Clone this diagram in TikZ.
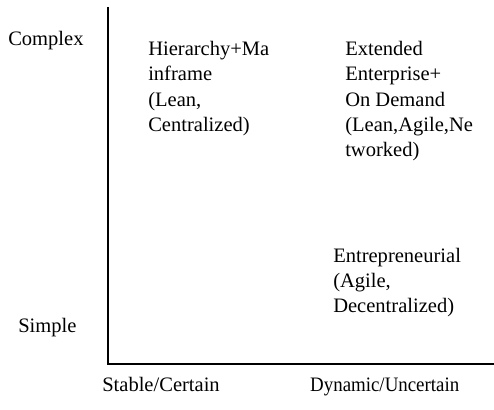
\documentclass[tikz,border=0pt]{standalone}
\usepackage{fontspec}
\setmainfont{Liberation Serif}
\begin{document}
\begin{tikzpicture}[x=0.75pt,y=-0.75pt,
  lbl/.style={anchor=base west,inner sep=0pt,align=left,
    font=\fontsize{15.4pt}{19.1pt}\selectfont},
  axis/.style={line width=0.9pt}]
\useasboundingbox (0,0) rectangle (494,410);
% axes
\coordinate (top) at (108,7);
\coordinate (origin) at (108,364);
\coordinate (right) at (494,364);
\draw[axis] (top) -- (origin) -- (right);
% axis labels
\node[lbl] (complex) at (8,46) {Complex};
\node[lbl] (simple) at (18,333) {Simple};
\node[lbl] (stable) at (102,392) {Stable/Certain};
\node[lbl,transform shape,xscale=0.92] (dynamic) at (310,392) {Dynamic/Uncertain};
% quadrant labels (anchored at the baseline of their last line)
\node[lbl] (hier) at (148,131.5) {Hierarchy+Ma\\inframe\\(Lean,\\Centralized)};
\node[lbl] (ext) at (345,157) {Extended\\Enterprise+\\On Demand\\(Lean,Agile,Ne\\tworked)};
\node[lbl] (entre) at (333,313) {Entrepreneurial\\(Agile,\\Decentralized)};
\end{tikzpicture}
\end{document}
